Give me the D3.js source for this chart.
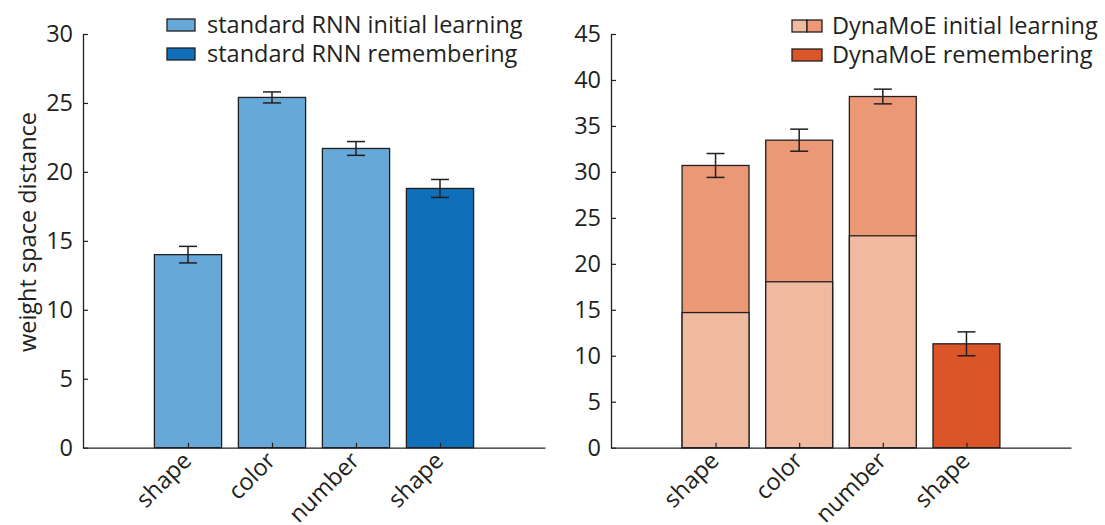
<!DOCTYPE html>
<html>
<head>
<meta charset="utf-8">
<script src="https://cdn.jsdelivr.net/npm/d3@7"></script>
<style>
  html, body { margin: 0; padding: 0; background: #fff; }
  svg { display: block; }
  text { font-family: "Open Sans", "Noto Sans", sans-serif; fill: #231f20; }
</style>
</head>
<body>
<svg id="chart" width="1105" height="525"></svg>
<script>
// ---- data ----
const categories = ["shape", "color", "number", "shape"];

const rnnValues = [14.0, 25.4, 21.7, 18.8];
const rnnErrors = [0.6, 0.4, 0.5, 0.65];
const rnnKinds = ["initial", "initial", "initial", "remembering"];

const moeLower = [14.7, 18.05, 23.05, null];
const moeTotals = [30.7, 33.45, 38.2, 11.3];
const moeErrors = [1.3, 1.2, 0.8, 1.3];
const moeKinds = ["initial", "initial", "initial", "remembering"];

const rnnTicks = [0, 5, 10, 15, 20, 25, 30];
const moeTicks = [0, 5, 10, 15, 20, 25, 30, 35, 40, 45];

const rnnLegend = ["standard RNN initial learning", "standard RNN remembering"];
const moeLegend = ["DynaMoE initial learning", "DynaMoE remembering"];
const yLabel = "weight space distance";

// ---- styles ----
const C = {
  rnnLight: "#66a9d8",
  rnnDark: "#0f6fb8",
  moeLight: "#f0baa1",
  moeMid: "#eb9876",
  moeDark: "#da5527",
  stroke: "#231f20"
};
const FS = 23.5;

const svg = d3.select("#chart");

function panel(opts) {
  const g = svg.append("g");
  const x = d3.scaleLinear().domain([-0.25, 5.25]).range([opts.x0, opts.x1]);
  const y = d3.scaleLinear().domain([0, opts.ymax]).range([447.7, 34]);
  const idx = categories.map((d, i) => i + 1);
  const bw = x(0.8) - x(0);

  // bars
  opts.drawBars(g, x, y, idx, bw);

  // error bars
  const eg = g.append("g").attr("stroke", C.stroke).attr("stroke-width", 1.5);
  idx.forEach((p, i) => {
    const v = opts.totals[i], e = opts.errors[i];
    eg.append("line").attr("x1", x(p)).attr("x2", x(p)).attr("y1", y(v - e)).attr("y2", y(v + e));
    eg.append("line").attr("x1", x(p) - 9).attr("x2", x(p) + 9).attr("y1", y(v - e)).attr("y2", y(v - e));
    eg.append("line").attr("x1", x(p) - 9).attr("x2", x(p) + 9).attr("y1", y(v + e)).attr("y2", y(v + e));
  });

  // y axis
  const ya = g.append("g").attr("transform", `translate(${opts.x0},0)`)
    .call(d3.axisLeft(y).tickValues(opts.ticks).tickSize(-5).tickPadding(10).tickSizeOuter(0));
  ya.select(".domain").attr("stroke", C.stroke).attr("stroke-width", 1.3);
  ya.selectAll(".tick line").attr("stroke", C.stroke).attr("stroke-width", 1.2);
  ya.selectAll(".tick text").attr("font-size", FS).attr("fill", C.stroke)
    .attr("font-family", '"Open Sans", sans-serif');

  // x axis
  const xa = g.append("g").attr("transform", `translate(0,${y(0)})`)
    .call(d3.axisBottom(x).tickValues(idx).tickSize(-5).tickSizeOuter(0).tickFormat((d, i) => categories[i]));
  xa.select(".domain").attr("stroke", C.stroke).attr("stroke-width", 1.3);
  xa.selectAll(".tick line").attr("stroke", C.stroke).attr("stroke-width", 1.2);
  xa.selectAll(".tick text")
    .attr("font-size", FS).attr("fill", C.stroke)
    .attr("font-family", '"Open Sans", sans-serif')
    .attr("text-anchor", "end")
    .attr("dy", null).attr("y", 0)
    .attr("transform", "translate(-2,8) rotate(-45)")
    .attr("dominant-baseline", "central");

  // legend
  const lg = g.append("g");
  opts.legend.forEach((t, i) => {
    const ly = opts.legY + i * 29;
    opts.drawSwatch(lg, opts.legX, ly - 5, i);
    lg.append("text").attr("x", opts.legX + 40).attr("y", ly)
      .attr("font-size", FS).attr("dominant-baseline", "central").text(t);
  });
  return { x, y };
}

// left panel: standard RNN
panel({
  x0: 83, x1: 545, ymax: 30, ticks: rnnTicks,
  totals: rnnValues, errors: rnnErrors,
  legend: rnnLegend, legX: 167, legY: 24,
  drawBars: (g, x, y, idx, bw) => {
    g.selectAll("rect.bar").data(rnnValues).join("rect")
      .attr("class", "bar")
      .attr("x", (d, i) => x(idx[i]) - bw / 2)
      .attr("width", bw)
      .attr("y", d => y(d))
      .attr("height", d => y(0) - y(d))
      .attr("fill", (d, i) => rnnKinds[i] === "initial" ? C.rnnLight : C.rnnDark)
      .attr("stroke", C.stroke).attr("stroke-width", 1.3);
  },
  drawSwatch: (lg, x, y, i) => {
    lg.append("rect").attr("x", x).attr("y", y).attr("width", 28).attr("height", 12)
      .attr("fill", i === 0 ? C.rnnLight : C.rnnDark).attr("stroke", C.stroke).attr("stroke-width", 1.3);
  }
});

// right panel: DynaMoE
panel({
  x0: 611, x1: 1071, ymax: 45, ticks: moeTicks,
  totals: moeTotals, errors: moeErrors,
  legend: moeLegend, legX: 792, legY: 25,
  drawBars: (g, x, y, idx, bw) => {
    g.selectAll("rect.top").data(moeTotals).join("rect")
      .attr("class", "top")
      .attr("x", (d, i) => x(idx[i]) - bw / 2)
      .attr("width", bw)
      .attr("y", d => y(d))
      .attr("height", d => y(0) - y(d))
      .attr("fill", (d, i) => moeKinds[i] === "initial" ? C.moeMid : C.moeDark)
      .attr("stroke", C.stroke).attr("stroke-width", 1.3);
    g.selectAll("rect.low").data(moeLower.map((d, i) => ({ d, i })).filter(o => o.d != null)).join("rect")
      .attr("class", "low")
      .attr("x", o => x(idx[o.i]) - bw / 2)
      .attr("width", bw)
      .attr("y", o => y(o.d))
      .attr("height", o => y(0) - y(o.d))
      .attr("fill", C.moeLight)
      .attr("stroke", C.stroke).attr("stroke-width", 1.3);
  },
  drawSwatch: (lg, x, y, i) => {
    if (i === 0) {
      lg.append("rect").attr("x", x).attr("y", y).attr("width", 15).attr("height", 12)
        .attr("fill", C.moeLight).attr("stroke", C.stroke).attr("stroke-width", 1.3);
      lg.append("rect").attr("x", x + 15).attr("y", y).attr("width", 15).attr("height", 12)
        .attr("fill", C.moeMid).attr("stroke", C.stroke).attr("stroke-width", 1.3);
    } else {
      lg.append("rect").attr("x", x).attr("y", y).attr("width", 30).attr("height", 12)
        .attr("fill", C.moeDark).attr("stroke", C.stroke).attr("stroke-width", 1.3);
    }
  }
});

// y label
svg.append("text")
  .attr("transform", "translate(27,232) rotate(-90)")
  .attr("text-anchor", "middle")
  .attr("dominant-baseline", "central")
  .attr("font-size", FS)
  .text(yLabel);
</script>
</body>
</html>
